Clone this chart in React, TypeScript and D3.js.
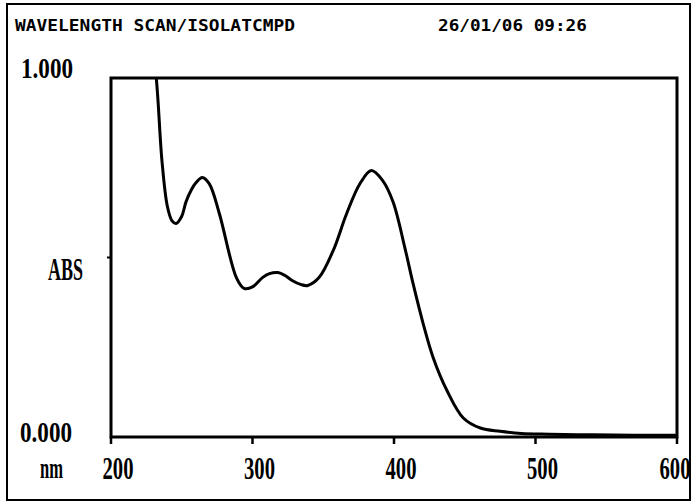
import { useEffect, useRef } from 'react'
import * as d3 from 'd3'

// wavelength (nm) and absorbance
const wavelengths = [226, 232, 236, 239.7, 243, 246, 250, 253, 257, 260, 264.5, 269.5, 276.6, 288.6, 294, 300, 307, 312, 318, 323, 328, 334, 339, 347, 357, 366.5, 376, 384, 392, 399.3, 407.8, 413.5, 420.6, 427.7, 437.6, 449, 461, 475, 490, 510, 540, 570, 600]
const absorbance = [1.2, 1.0, 0.77, 0.645, 0.603, 0.595, 0.615, 0.655, 0.69, 0.708, 0.723, 0.705, 0.622, 0.444, 0.414, 0.418, 0.444, 0.455, 0.458, 0.45, 0.436, 0.425, 0.422, 0.444, 0.519, 0.622, 0.706, 0.742, 0.714, 0.655, 0.525, 0.427, 0.316, 0.221, 0.128, 0.053, 0.025, 0.016, 0.01, 0.008, 0.006, 0.005, 0.005]
const xTicks = [200, 300, 400, 500, 600]
const headerLeft = 'WAVELENGTH SCAN/ISOLATCMPD'
const headerRight = '26/01/06 09:26'

const App = () => {
  const svgRef = useRef<SVGSVGElement>(null)

  useEffect(() => {
    if (!svgRef.current) return
    const width = 692
    const height = 503
    const margin = { top: 78, right: 15, bottom: 66, left: 111 }
    const chartWidth = width - margin.left - margin.right
    const chartHeight = height - margin.top - margin.bottom

    const svg = d3.select(svgRef.current)
    svg.selectAll('*').remove()
    svg.attr('width', width).attr('height', height)

    const font = '"Liberation Serif", serif'

    // squeezed text: scale horizontally so it fills `len` px
    const squeezed = (txt: string, xx: number, yy: number, len: number, size: number, family: string, anchor = 'start') => {
      const t = svg.append('text')
        .attr('font-family', family).attr('font-weight', 'bold').attr('font-size', `${size}px`)
        .attr('text-anchor', anchor)
        .text(txt)
      const natural = (t.node() as SVGTextElement).getComputedTextLength() || len
      t.attr('transform', `translate(${xx},${yy}) scale(${len / natural},1)`)
      return t
    }

    // outer frame
    svg.append('rect')
      .attr('x', 7).attr('y', 4)
      .attr('width', 683).attr('height', 496)
      .attr('fill', 'none').attr('stroke', '#000').attr('stroke-width', 2)

    // header line
    const mono = '"DejaVu Sans Mono", monospace'
    squeezed(headerLeft, 15, 31, 280, 16, mono)
    squeezed(headerRight, 438, 31, 149, 16, mono)

    const g = svg.append('g')
      .attr('transform', `translate(${margin.left},${margin.top})`)

    const x = d3.scaleLinear().domain([200, 600]).range([0, chartWidth])
    const y = d3.scaleLinear().domain([0, 1]).range([chartHeight, 0])

    g.append('clipPath').attr('id', 'plot-clip')
      .append('rect').attr('width', chartWidth).attr('height', chartHeight)

    const data = wavelengths.map((w, i) => ({ w, a: absorbance[i] }))

    const line = d3.line<{ w: number; a: number }>()
      .x(d => x(d.w))
      .y(d => y(d.a))
      .curve(d3.curveCatmullRom.alpha(0.5))

    g.append('path')
      .datum(data)
      .attr('clip-path', 'url(#plot-clip)')
      .attr('fill', 'none')
      .attr('stroke', '#000')
      .attr('stroke-width', 3)
      .attr('stroke-linejoin', 'round')
      .attr('d', line)

    // plot box
    g.append('rect')
      .attr('width', chartWidth).attr('height', chartHeight)
      .attr('fill', 'none').attr('stroke', '#000').attr('stroke-width', 3)

    // x ticks
    g.selectAll('.xtick')
      .data(xTicks)
      .enter()
      .append('line')
      .attr('class', 'xtick')
      .attr('x1', d => x(d)).attr('x2', d => x(d))
      .attr('y1', chartHeight).attr('y2', chartHeight + 7)
      .attr('stroke', '#000').attr('stroke-width', 2.5)

    g.append('line')
      .attr('x1', -4).attr('x2', 0)
      .attr('y1', y(0.5)).attr('y2', y(0.5))
      .attr('stroke', '#000').attr('stroke-width', 2)

    xTicks.forEach(t => {
      const cx = Math.min(margin.left + x(t) + 7, width - 17)
      squeezed(String(t), cx, 479, 31, 31, font, 'middle')
    })

    // y labels
    squeezed('1.000', 21, 78, 52, 30, font)
    squeezed('ABS', 48, 280, 35, 31, font)
    squeezed('0.000', 20, 442, 52, 30, font)
    squeezed('nm', 40, 478, 23, 30, font)
  }, [])

  return (
    <div style={{ position: 'absolute', top: 0, left: 0 }}>
      <svg ref={svgRef} style={{ display: 'block', background: '#fff' }}></svg>
    </div>
  )
}

export default App
